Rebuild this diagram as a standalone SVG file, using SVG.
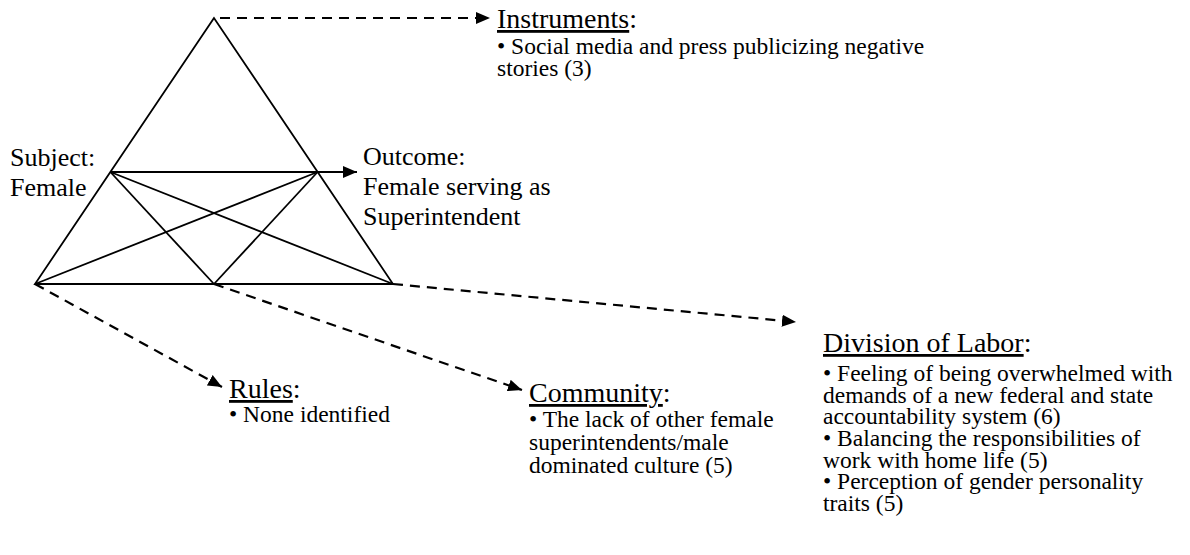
<svg xmlns="http://www.w3.org/2000/svg" width="1190" height="555" viewBox="0 0 1190 555">
  <style>
    .edge { stroke: #000; stroke-width: 1.8; fill: none; }
    .dash { stroke: #000; stroke-width: 2.2; fill: none; stroke-dasharray: 10 7; }
    text { fill: #000; }
    .big { font-size: 26px; }
    .head { font-size: 28px; }
    .body { font-size: 23.5px; }
    .u { text-decoration: underline; }
  </style>
  <defs>
    <marker id="head" viewBox="0 0 14 12" refX="14" refY="6" markerWidth="14" markerHeight="12" markerUnits="userSpaceOnUse" orient="auto">
      <path d="M0,0 L14,6 L0,12 z" fill="#000"/>
    </marker>
  </defs>
  <rect width="1190" height="555" fill="#fff"/>

  <!-- activity triangle with its inner mediation lines -->
  <g id="triangle">
    <path class="edge" d="M214,18 L35,284 L393,284 Z"/>
    <line class="edge" x1="110.4" y1="172" x2="214" y2="284"/>
    <line class="edge" x1="110.4" y1="172" x2="393" y2="284"/>
    <line class="edge" x1="317.6" y1="172" x2="35" y2="284"/>
    <line class="edge" x1="317.6" y1="172" x2="214" y2="284"/>
  </g>

  <g id="connectors">
    <line class="edge" x1="110.4" y1="172" x2="357" y2="172" marker-end="url(#head)"/>
    <line class="dash" x1="220" y1="18" x2="490" y2="18" marker-end="url(#head)"/>
    <line class="dash" x1="35" y1="284" x2="222" y2="387" marker-end="url(#head)"/>
    <line class="dash" x1="214" y1="284" x2="522" y2="390" marker-end="url(#head)"/>
    <line class="dash" x1="393" y1="284" x2="796" y2="322" marker-end="url(#head)"/>
  </g>

  <g font-family="'Liberation Serif', serif">
    <g id="subject">
      <text class="big" x="10" y="166">Subject:</text>
      <text class="big" x="10" y="196">Female</text>
    </g>

    <g id="outcome">
      <text class="big" x="363" y="165">Outcome:</text>
      <text class="big" x="363" y="195">Female serving as</text>
      <text class="big" x="363" y="225">Superintendent</text>
    </g>

    <g id="instruments">
      <text class="head" x="497" y="28"><tspan class="u">Instruments</tspan>:</text>
      <text class="body" x="497" y="54">• Social media and press publicizing negative</text>
      <text class="body" x="497" y="76">stories (3)</text>
    </g>

    <g id="rules">
      <text class="head" x="229" y="398"><tspan class="u">Rules</tspan>:</text>
      <text class="body" x="229" y="422">• None identified</text>
    </g>

    <g id="community">
      <text class="head" x="529" y="402"><tspan class="u">Community</tspan>:</text>
      <text class="body" x="529" y="427">• The lack of other female</text>
      <text class="body" x="529" y="450">superintendents/male</text>
      <text class="body" x="529" y="473">dominated culture (5)</text>
    </g>

    <g id="division-of-labor">
      <text class="head" x="823" y="352"><tspan class="u">Division of Labor</tspan>:</text>
      <text class="body" x="823" y="381">• Feeling of being overwhelmed with</text>
      <text class="body" x="823" y="403">demands of a new federal and state</text>
      <text class="body" x="823" y="424">accountability system (6)</text>
      <text class="body" x="823" y="446">• Balancing the responsibilities of</text>
      <text class="body" x="823" y="468">work with home life (5)</text>
      <text class="body" x="823" y="489">• Perception of gender personality</text>
      <text class="body" x="823" y="511">traits (5)</text>
    </g>
  </g>
</svg>
